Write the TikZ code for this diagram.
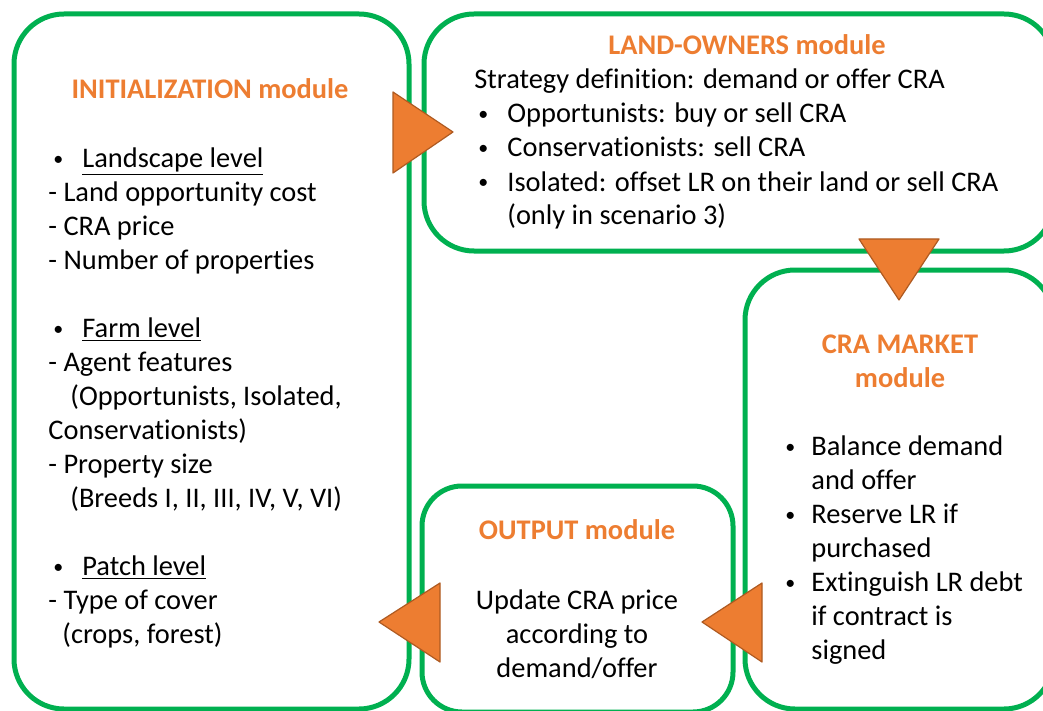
\documentclass[tikz,border=0pt]{standalone}
\usepackage{fontspec}
\setmainfont{Carlito}[Ligatures=NoCommon]
\definecolor{boxgreen}{HTML}{00B050}
\definecolor{headorange}{HTML}{ED7D31}
\definecolor{tipedge}{HTML}{AE5A21}
\tikzset{
  module/.style={draw=boxgreen, line width=2.5pt, rounded corners=25pt},
  arrowhead/.style={fill=headorange, draw=tipedge, line width=0.6pt, line join=round},
  title/.style={text=headorange, font=\fontsize{14.2}{17}\selectfont\bfseries, align=center, inner sep=0pt},
  body/.style={font=\fontsize{14.2}{17}\selectfont, align=left, inner sep=0pt},
}
% small bullet in a box of given width
\newcommand{\bul}[1]{\makebox[#1][l]{\raisebox{1pt}{\fontsize{10}{10}\selectfont\textbullet}}}
\begin{document}
\begin{tikzpicture}[x=0.5pt,y=-0.5pt]
  \useasboundingbox (0,0) rectangle (1043,711);
  \clip (0,0) rectangle (1043,711);
  % the four modules
  \draw[module] (14,14) rectangle (409,709);
  \draw[module] (424,14) rectangle (1054,251);
  \draw[module] (745,270) rectangle (1054,709);
  \draw[module, rounded corners=20pt] (422,486) rectangle (733,712);
  % INITIALIZATION (base = last line)
  \node[title, anchor=base] (inittitle) at (210,99) {INITIALIZATION module};
  \node[body, anchor=base west] (inittext) at (48,643) {%
    \hspace*{2.5pt}\bul{14.5pt}\underline{Landscape level}\\
    - Land opportunity cost\\
    - CRA price\\
    - Number of properties\\[17pt]
    \hspace*{2.5pt}\bul{14.5pt}\underline{Farm level}\\
    - Agent features\\
    \hspace*{11pt}(Opportunists, Isolated,\\
    Conservationists)\\
    - Property size\\
    \hspace*{11pt}(Breeds I, II, III, IV, V, VI)\\[17pt]
    \hspace*{2.5pt}\bul{14.5pt}\underline{Patch level}\\
    - Type of cover\\
    \hspace*{7pt}(crops, forest)};
  % LAND-OWNERS
  \node[title, anchor=base] (ownerstitle) at (747,55) {LAND-OWNERS module};
  \node[body, anchor=base west] (ownerstext) at (474,225) {%
    Strategy definition: demand or offer CRA\\
    \hspace*{2pt}\bul{14.5pt}Opportunists: buy or sell CRA\\
    \hspace*{2pt}\bul{14.5pt}Conservationists: sell CRA\\
    \hspace*{2pt}\bul{14.5pt}Isolated: offset LR on their land or sell CRA\\
    \hspace*{16.5pt}(only in scenario 3)};
  % CRA MARKET
  \node[title, anchor=base] (markettitle) at (900,387) {CRA MARKET\\module};
  \node[body, anchor=base west] (markettext) at (785,659) {%
    \bul{13pt}Balance demand\\
    \hspace*{13pt}and offer\\
    \bul{13pt}Reserve LR if\\
    \hspace*{13pt}purchased\\
    \bul{13pt}Extinguish LR debt\\
    \hspace*{13pt}if contract is\\
    \hspace*{13pt}signed};
  % OUTPUT
  \node[title, anchor=base] (outputtitle) at (577,539) {OUTPUT module};
  \node[body, align=center, anchor=base] (outputtext) at (577,677) {%
    Update CRA price\\
    according to\\
    demand/offer};
  % flow between modules
  \draw[arrowhead] (393,92) -- (453,132) -- (393,173) -- cycle;
  \draw[arrowhead] (859,239) -- (939,239) -- (899,300) -- cycle;
  \draw[arrowhead] (762,583) -- (702,622) -- (762,662) -- cycle;
  \draw[arrowhead] (440,583) -- (379,622) -- (440,662) -- cycle;
\end{tikzpicture}
\end{document}
